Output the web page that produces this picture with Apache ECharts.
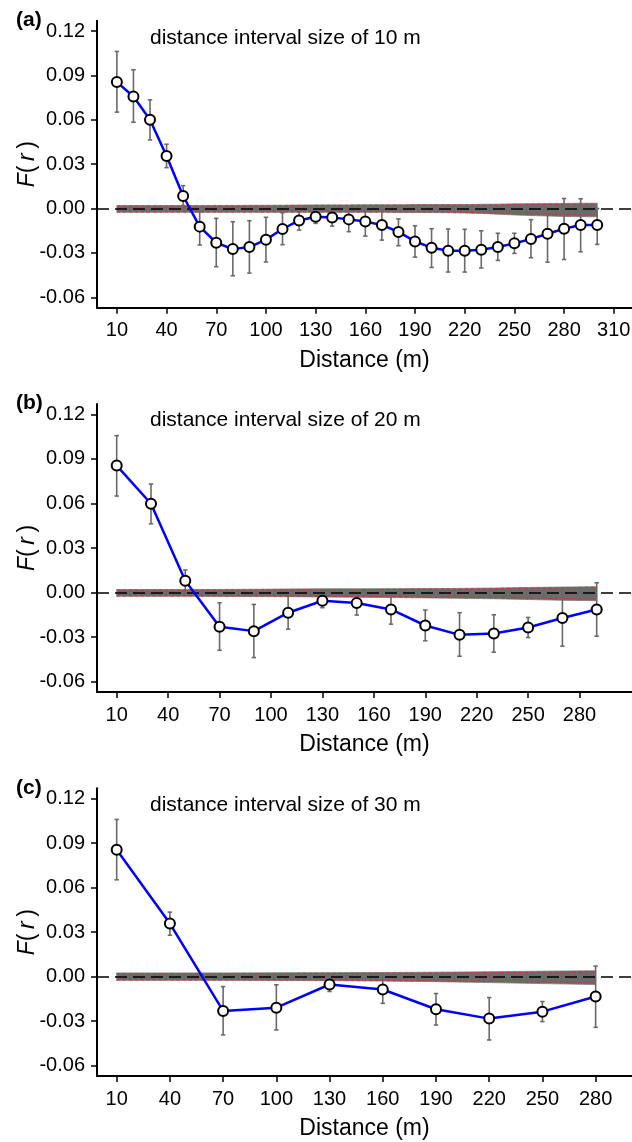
<!DOCTYPE html>
<html>
<head>
<meta charset="utf-8">
<script src="https://cdn.jsdelivr.net/npm/echarts@6/dist/echarts.min.js"></script>
<style>
html,body{margin:0;padding:0;background:#fff;}
#chart{width:632px;height:1142px;}
</style>
</head>
<body>
<div id="chart"></div>
<script>
// ---------- data ----------
const panelLabels = ['(a)', '(b)', '(c)'];
const panelTitles = ['distance interval size of 10 m', 'distance interval size of 20 m', 'distance interval size of 30 m'];
const yTicks = [-0.06, -0.03, 0.00, 0.03, 0.06, 0.09, 0.12];
const xTicksA = [10, 40, 70, 100, 130, 160, 190, 220, 250, 280, 310];
const xTicksB = [10, 40, 70, 100, 130, 160, 190, 220, 250, 280];
const xTicksC = [10, 40, 70, 100, 130, 160, 190, 220, 250, 280];

// Panel (a): 10 m interval
const distA = [10, 20, 30, 40, 50, 60, 70, 80, 90, 100, 110, 120, 130, 140, 150, 160, 170, 180, 190, 200, 210, 220, 230, 240, 250, 260, 270, 280, 290, 300];
const fA  = [0.0855, 0.0758, 0.0600, 0.0356, 0.0085, -0.0122, -0.0231, -0.0274, -0.0260, -0.0210, -0.0138, -0.0080, -0.0055, -0.0060, -0.0073, -0.0088, -0.0111, -0.0158, -0.0222, -0.0265, -0.0285, -0.0285, -0.0278, -0.0260, -0.0235, -0.0206, -0.0170, -0.0136, -0.0111, -0.0111];
const hiA = [0.1062, 0.0938, 0.0735, 0.0435, 0.0155, -0.0020, -0.0066, -0.0089, -0.0082, -0.0059, -0.0028, -0.0020, -0.0030, -0.0010, 0.0000, 0.0000, -0.0010, -0.0070, -0.0116, -0.0136, -0.0138, -0.0140, -0.0150, -0.0167, -0.0167, -0.0075, 0.0024, 0.0068, 0.0066, 0.0000];
const loA = [0.0652, 0.0584, 0.0464, 0.0277, 0.0020, -0.0246, -0.0393, -0.0454, -0.0436, -0.0361, -0.0244, -0.0145, -0.0100, -0.0118, -0.0156, -0.0186, -0.0213, -0.0251, -0.0328, -0.0398, -0.0429, -0.0429, -0.0402, -0.0350, -0.0303, -0.0332, -0.0362, -0.0344, -0.0292, -0.0242];
const bandHiA = [0.0020, 0.0020, 0.0020, 0.0020, 0.0020, 0.0020, 0.0021, 0.0021, 0.0022, 0.0022, 0.0023, 0.0024, 0.0025, 0.0025, 0.0025, 0.0026, 0.0026, 0.0026, 0.0027, 0.0027, 0.0028, 0.0028, 0.0029, 0.0030, 0.0032, 0.0033, 0.0034, 0.0035, 0.0036, 0.0036];
const bandLoA = [-0.0025, -0.0025, -0.0025, -0.0025, -0.0025, -0.0025, -0.0025, -0.0025, -0.0025, -0.0025, -0.0025, -0.0025, -0.0025, -0.0025, -0.0025, -0.0025, -0.0025, -0.0026, -0.0026, -0.0027, -0.0028, -0.0030, -0.0033, -0.0038, -0.0043, -0.0047, -0.0050, -0.0053, -0.0055, -0.0055];
const envHiA = [0.0017, 0.0017, 0.0017, 0.0017, 0.0017, 0.0017, 0.0018, 0.0018, 0.0019, 0.0019, 0.0020, 0.0020, 0.0021, 0.0021, 0.0021, 0.0022, 0.0022, 0.0022, 0.0023, 0.0023, 0.0024, 0.0024, 0.0025, 0.0026, 0.0027, 0.0028, 0.0029, 0.0030, 0.0031, 0.0031];
const envLoA = [-0.0022, -0.0022, -0.0022, -0.0022, -0.0022, -0.0022, -0.0022, -0.0022, -0.0022, -0.0022, -0.0022, -0.0022, -0.0022, -0.0022, -0.0022, -0.0022, -0.0022, -0.0023, -0.0023, -0.0024, -0.0025, -0.0026, -0.0028, -0.0030, -0.0032, -0.0034, -0.0036, -0.0038, -0.0040, -0.0040];

// Panel (b): 20 m interval
const distB = [10, 30, 50, 70, 90, 110, 130, 150, 170, 190, 210, 230, 250, 270, 290];
const fB  = [0.0855, 0.0598, 0.0080, -0.0231, -0.0260, -0.0136, -0.0055, -0.0071, -0.0114, -0.0222, -0.0285, -0.0276, -0.0235, -0.0172, -0.0114];
const hiB = [0.1057, 0.0731, 0.0152, -0.0069, -0.0080, -0.0006, -0.0030, 0.0000, -0.0020, -0.0118, -0.0136, -0.0150, -0.0168, 0.0017, 0.0066];
const loB = [0.0650, 0.0463, 0.0005, -0.0389, -0.0438, -0.0247, -0.0102, -0.0152, -0.0213, -0.0325, -0.0429, -0.0402, -0.0303, -0.0361, -0.0294];
const bandHiB = [0.0020, 0.0020, 0.0020, 0.0021, 0.0022, 0.0024, 0.0025, 0.0025, 0.0026, 0.0027, 0.0028, 0.0030, 0.0034, 0.0037, 0.0039];
const bandLoB = [-0.0025, -0.0025, -0.0025, -0.0026, -0.0027, -0.0028, -0.0030, -0.0032, -0.0034, -0.0036, -0.0039, -0.0042, -0.0047, -0.0052, -0.0055];
const envHiB = [0.0016, 0.0016, 0.0016, 0.0017, 0.0017, 0.0018, 0.0019, 0.0020, 0.0021, 0.0023, 0.0025, 0.0027, 0.0030, 0.0033, 0.0035];
const envLoB = [-0.0022, -0.0022, -0.0022, -0.0023, -0.0023, -0.0024, -0.0025, -0.0026, -0.0028, -0.0030, -0.0032, -0.0034, -0.0037, -0.0040, -0.0042];

// Panel (c): 30 m interval
const distC = [10, 40, 70, 100, 130, 160, 190, 220, 250, 280];
const fC  = [0.0856, 0.0358, -0.0231, -0.0209, -0.0053, -0.0087, -0.0220, -0.0283, -0.0236, -0.0134];
const hiC = [0.1060, 0.0435, -0.0067, -0.0055, -0.0026, -0.0020, -0.0114, -0.0141, -0.0168, 0.0071];
const loC = [0.0653, 0.0279, -0.0393, -0.0359, -0.0100, -0.0180, -0.0326, -0.0427, -0.0303, -0.0342];
const bandHiC = [0.0025, 0.0025, 0.0025, 0.0026, 0.0027, 0.0028, 0.0030, 0.0033, 0.0037, 0.0040];
const bandLoC = [-0.0025, -0.0025, -0.0025, -0.0026, -0.0027, -0.0030, -0.0034, -0.0040, -0.0047, -0.0053];
const envHiC = [0.0020, 0.0020, 0.0020, 0.0021, 0.0022, 0.0023, 0.0025, 0.0027, 0.0030, 0.0033];
const envLoC = [-0.0022, -0.0022, -0.0022, -0.0023, -0.0024, -0.0026, -0.0028, -0.0031, -0.0035, -0.0040];

// ---------- build ----------
const FONT = "'Liberation Sans', Arial, sans-serif";
const panels = [
  {dist: distA, f: fA, hi: hiA, lo: loA, bHi: bandHiA, bLo: bandLoA, eHi: envHiA, eLo: envLoA, ticks: xTicksA, xmin: -2, xmax: 321, top: 20.7, height: 287, lblY: 22, ttlY: 39.5},
  {dist: distB, f: fB, hi: hiB, lo: loB, bHi: bandHiB, bLo: bandLoB, eHi: envHiB, eLo: envLoB, ticks: xTicksB, xmin: -1.5, xmax: 310.6, top: 404, height: 288, lblY: 404.5, ttlY: 421.7},
  {dist: distC, f: fC, hi: hiC, lo: loC, bHi: bandHiC, bLo: bandLoC, eHi: envHiC, eLo: envLoC, ticks: xTicksC, xmin: -1.1, xmax: 300.5, top: 788.3, height: 287.7, lblY: 789.5, ttlY: 807}
];

const grids = [], xAxes = [], yAxes = [], series = [], graphics = [];
panels.forEach((p, i) => {
  grids.push({left: 97, right: 0, top: p.top, height: p.height, containLabel: false, outerBoundsMode: 'none'});
  xAxes.push({
    type: 'value', gridIndex: i, min: p.xmin, max: p.xmax,
    name: 'Distance (m)', nameLocation: 'middle', nameGap: 41,
    nameTextStyle: {fontFamily: FONT, fontSize: 23, color: '#000'},
    axisLine: {show: true, onZero: false, lineStyle: {color: '#000', width: 2}},
    axisTick: {show: true, length: 6, customValues: p.ticks, lineStyle: {color: '#000', width: 1.5}},
    axisLabel: {customValues: p.ticks, margin: 13, fontFamily: FONT, fontSize: 20, color: '#000'},
    splitLine: {show: false}
  });
  yAxes.push({
    type: 'value', gridIndex: i, min: -0.067, max: 0.127,
    name: '{i|F}{n|(\u2009}{i|r}{n|\u2009)}', nameLocation: 'middle', nameGap: 58, nameRotate: 90,
    nameMoveOverlap: false,
    nameTextStyle: {fontFamily: FONT, fontSize: 23, color: '#000',
      rich: {i: {fontFamily: FONT, fontSize: 23, fontStyle: 'italic', color: '#000'}, n: {fontFamily: FONT, fontSize: 23, color: '#000'}}},
    axisLine: {show: true, onZero: false, lineStyle: {color: '#000', width: 2}},
    axisTick: {show: true, length: 6, customValues: yTicks, lineStyle: {color: '#000', width: 1.5}},
    axisLabel: {customValues: yTicks, margin: 12, fontFamily: FONT, fontSize: 20, color: '#000',
      formatter: v => v.toFixed(2)},
    splitLine: {show: false}
  });

  // zero dashed reference line
  series.push({
    type: 'line', xAxisIndex: i, yAxisIndex: i, data: [], silent: true,
    markLine: {silent: true, symbol: ['none', 'none'], label: {show: false},
      lineStyle: {color: '#000', width: 1.5, type: [12, 6]}, data: [{yAxis: 0}], animation: false}
  });
  // gray simulation band
  series.push({
    type: 'custom', xAxisIndex: i, yAxisIndex: i, silent: true, animation: false,
    data: [[p.dist[0], 0]],
    renderItem: (params, api) => {
      const upper = p.dist.map((x, k) => api.coord([x, p.bHi[k]]));
      const lower = p.dist.map((x, k) => api.coord([x, p.bLo[k]])).reverse();
      return {type: 'polygon', shape: {points: upper.concat(lower)}, style: {fill: '#6b6b6b', stroke: '#7a7a7a', lineWidth: 0.8}};
    }
  });
  // red envelope lines
  [p.eHi, p.eLo].forEach(env => {
    series.push({
      type: 'line', xAxisIndex: i, yAxisIndex: i, silent: true, animation: false,
      data: p.dist.map((x, k) => [x, env[k]]), showSymbol: false, symbol: 'none',
      lineStyle: {color: '#ff2020', width: 1.2, type: [3, 3], opacity: 0.85}
    });
  });
  // error bars
  series.push({
    type: 'custom', xAxisIndex: i, yAxisIndex: i, silent: true, animation: false,
    data: p.dist.map((x, k) => [x, p.lo[k], p.hi[k]]),
    encode: {x: 0, y: [1, 2]},
    renderItem: (params, api) => {
      const x = api.value(0);
      const a = api.coord([x, api.value(2)]);
      const b = api.coord([x, api.value(1)]);
      const c = 2.2;
      const st = {stroke: '#6a6a6a', lineWidth: 1.6};
      return {type: 'group', children: [
        {type: 'line', shape: {x1: a[0], y1: a[1], x2: b[0], y2: b[1]}, style: st},
        {type: 'line', shape: {x1: a[0] - c, y1: a[1], x2: a[0] + c, y2: a[1]}, style: st},
        {type: 'line', shape: {x1: b[0] - c, y1: b[1], x2: b[0] + c, y2: b[1]}, style: st}
      ]};
    }
  });
  // observed F(r)
  series.push({
    type: 'line', xAxisIndex: i, yAxisIndex: i, animation: false,
    data: p.dist.map((x, k) => [x, p.f[k]]),
    symbol: 'circle', symbolSize: 10, showSymbol: true,
    lineStyle: {color: '#0000ff', width: 2.5},
    itemStyle: {color: '#ffffff', borderColor: '#000000', borderWidth: 2},
    z: 5
  });

  graphics.push({type: 'text', left: 16, top: p.lblY - 12, style: {text: panelLabels[i], font: 'bold 21px ' + FONT, fill: '#000'}});
  graphics.push({type: 'text', left: 150, top: p.ttlY - 12, style: {text: panelTitles[i], font: '21px ' + FONT, fill: '#000'}});
});

const chart = echarts.init(document.getElementById('chart'), null, {renderer: 'canvas'});
chart.setOption({
  animation: false,
  backgroundColor: '#ffffff',
  grid: grids, xAxis: xAxes, yAxis: yAxes, series: series, graphic: graphics
});
</script>
</body>
</html>
